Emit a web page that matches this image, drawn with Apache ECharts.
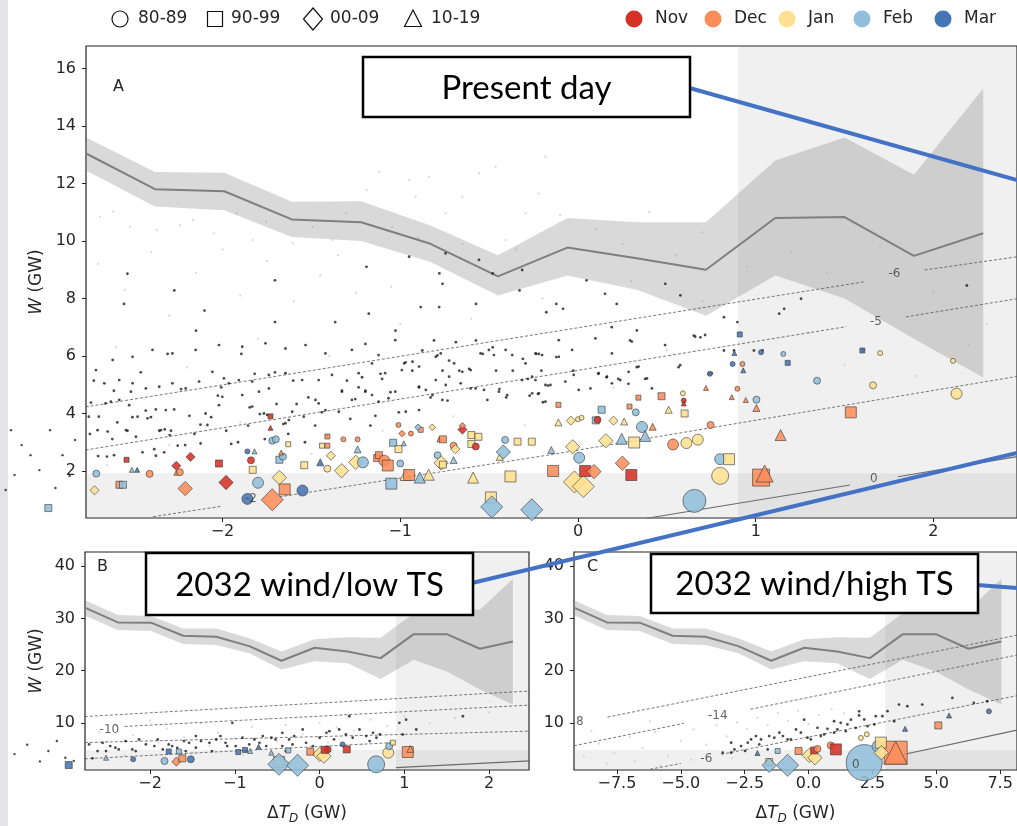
<!DOCTYPE html>
<html><head><meta charset="utf-8">
<script src="https://cdn.jsdelivr.net/npm/echarts@6/dist/echarts.min.js"></script>
<style>html,body{margin:0;padding:0;background:#fff;}#c{width:1017px;height:826px;}</style>
</head><body><div id="c"></div><script>
// ---------------- DATA ----------------
const MONTHS = ['Nov','Dec','Jan','Feb','Mar'];
const DECADES = ['80-89','90-99','00-09','10-19'];

// ridge line (x, mid, upper, lower)
const lineX_AB = [-2.77,-2.38,-1.99,-1.61,-1.22,-0.83,-0.45,-0.06,0.33,0.72,1.11,1.50,1.89,2.28];
const lineA_mid = [13.05,11.8,11.73,10.75,10.65,9.9,8.77,9.77,9.4,9.0,10.8,10.83,9.48,10.27];
const lineA_up  = [13.6,12.4,12.37,11.36,11.38,10.54,9.5,10.8,10.65,10.65,12.8,13.6,12.3,15.3];
const lineA_lo  = [12.46,11.2,11.07,10.14,10.0,9.27,8.1,8.8,8.3,7.4,8.8,8.0,6.6,5.25];
const lineC_x = [-9.18,-7.89,-6.61,-5.32,-4.03,-2.75,-1.46,-0.17,1.12,2.40,3.69,4.98,6.26,7.55];
const lineBC_mid = [32.1,29.25,29.2,26.7,26.5,24.7,21.9,24.4,23.66,22.4,27.0,27.0,24.2,25.6];
const lineBC_up  = [33.5,30.66,30.5,28.1,28.1,26.2,23.66,26.0,26.4,26.3,31.0,32.2,31.7,37.6];
const lineBC_lo  = [30.6,27.8,27.6,25.1,24.9,23.35,20.2,21.8,21.4,18.4,22.1,19.85,16.4,13.5];

// shaded thresholds
const shadeX_AB = 0.9, shadeW_A = 1.92, shadeX_C = 3.0, shadeW_BC = 4.8;

// contour segments
const contA = [
  [[-2.77,4.23],[1.61,8.58]], [[1.95,8.99],[2.47,9.45]],
  [[-2.77,2.73],[-0.16,5.34],[1.51,7.02]], [[1.845,7.36],[2.47,7.99]],
  [[-2.39,0.41],[-2.0,0.78]], [[-1.68,1.1],[-0.16,2.56],[2.47,5.29]]
];
const contA_solid = [ [[0.38,0.35],[1.53,1.51]], [[1.80,1.8],[2.47,2.5]] ];
const contA_labels = [['-6',1.78,8.85],['-5',1.676,7.2],['-2',-1.84,1.03],['0',1.665,1.72]];
const contB = [
  [[-2.77,11.2],[2.48,16.1]], [[-2.3,9.3],[2.48,13.4]],
  [[-2.77,6.2],[2.48,8.4]], [[-2.77,3.1],[0.86,6.2]]
];
const contB_solid = [ [[0.9,1.4],[2.48,2.7]] ];
const contB_labels = [['-10',-2.48,8.7]];
const contC = [
  [[-7.87,11.1],[8.16,26.8]],
  [[-9.18,5.6],[-4.88,9.9]], [[-2.27,12.6],[8.16,23.0]],
  [[-6.2,1.1],[-5.0,2.2]], [[-3.42,3.95],[8.16,15.2]]
];
const contC_solid = [ [[3.4,3.6],[8.16,8.6]] ];
const contC_labels = [['8',-8.95,10.2],['-14',-3.55,11.3],['-6',-4.0,3.1],['0',1.85,2.0]];

// background sample points
const blackA = [[-2.784,3.87],[-2.752,3.89],[-2.696,3.89],[-2.746,3.29],[-2.658,4.35],[-2.62,3.11],[-2.592,3.69],[-2.535,3.40],[-2.507,3.87],[-2.45,2.65],[-2.432,4.10],[-2.403,3.87],[-2.384,2.76],[-2.375,2.53],[-2.356,3.40],[-2.328,2.65],[-2.29,3.40],[-2.252,2.88],[-2.233,4.85],[-2.186,3.92],[-2.158,3.29],[-2.149,6.88],[-2.124,3.61],[-2.064,3.87],[-2.026,4.62],[-2.007,4.91],[-1.979,3.40],[-1.951,2.94],[-1.913,3.00],[-1.856,3.58],[-1.847,4.21],[-1.819,5.38],[-1.79,3.98],[-1.762,3.11],[-1.705,5.43],[-1.696,4.33],[-1.658,3.63],[-1.63,3.29],[-1.602,5.14],[-1.583,4.33],[-1.536,3.00],[-1.517,4.56],[-1.479,3.58],[-1.441,4.04],[-1.413,3.23],[-1.366,7.18],[-1.328,4.79],[-1.3,5.14],[-1.281,3.81],[-1.253,4.50],[-1.234,4.91],[-1.215,5.26],[-1.196,4.79],[-1.168,3.58],[-1.14,3.92],[-1.111,5.38],[-1.102,5.20],[-1.055,4.74],[-1.027,6.88],[-1.008,4.04],[-0.97,5.78],[-0.932,5.49],[-0.895,4.91],[-0.885,7.70],[-0.876,6.19],[-0.829,4.56],[-0.81,6.54],[-0.791,6.02],[-0.781,7.70],[-0.762,5.49],[-0.734,4.45],[-0.725,5.84],[-0.687,6.48],[-0.668,5.49],[-0.612,5.55],[-0.574,6.54],[-0.536,6.07],[-0.48,6.30],[-0.461,5.49],[-0.442,4.85],[-0.404,4.56],[-0.367,5.49],[-0.31,5.90],[-0.282,5.20],[-0.272,4.62],[-0.235,6.07],[-0.206,5.49],[-0.197,4.39],[-1.196,6.42],[-1.705,7.18],[-1.894,6.07],[-2.309,6.07],[-2.46,5.43],[-2.611,4.79],[-2.724,5.14],[-2.554,7.81],[-2.271,8.28],[-2.535,8.86],[-1.705,8.63],[-2.101,7.58],[-1.177,7.47],[-0.574,7.81],[-0.329,8.28],[-0.762,8.51],[-0.178,7.52],[-0.122,7.81],[-0.084,7.64],[0.048,8.63],[0.152,8.16],[0.19,7.0],[0.218,7.81],[0.293,6.54],[0.331,6.89],[0.491,8.51],[0.576,8.11],[0.652,6.71],[0.689,6.65],[0.821,7.35],[0.897,7.18],[0.821,6.19],[0.878,6.19],[0.99,6.19],[1.038,6.19],[1.132,7.47],[1.16,7.64],[1.255,7.99],[-0.22,6.07],[-0.122,5.96],[-0.027,5.49],[0.114,5.38],[0.161,5.26],[0.227,5.20],[0.284,5.03],[0.331,5.61],[0.378,5.20],[-0.225,4.68],[-0.169,4.97],[2.188,8.45],[0.566,5.61],[0.736,5.38],[1.604,6.19],[-0.95,9.45],[-0.78,8.87],[-0.745,9.57],[-0.557,9.34],[-0.314,8.99],[-1.19,9.1],[-0.48,8.87],[-2.70,2.52],[-2.65,2.5],[-2.61,2.55]];
const blackA2 = [[-2.74,4.38],[-2.628,4.41],[-2.581,4.47],[-2.525,4.29],[-2.515,4.76],[-2.375,4.14],[-2.319,4.12],[-2.272,4.14],[-2.478,3.89],[-2.422,3.83],[-2.347,3.42],[-2.325,3.45],[-2.297,3.25],[-2.21,2.90],[-2.123,2.96],[-2.085,3.6],[-2.095,4.0],[-2.02,4.29],[-2.001,4.58],[-1.964,5.05],[-1.889,4.64],[-1.795,4.76],[-1.739,4.87],[-1.833,4.24],[-1.767,4.0],[-1.749,3.95],[-1.646,3.66],[-1.627,3.77],[-1.608,4.06],[-1.543,3.89],[-1.477,4.47],[-1.459,4.35],[-1.421,4.12],[-1.346,4.06],[-1.328,4.76],[-1.272,4.47],[-1.197,4.76],[-1.159,4.64],[-1.122,4.41],[-1.066,4.53],[-1.028,4.76],[-0.991,5.51],[-1.085,5.40],[-1.159,5.74],[-1.234,5.40],[-1.384,5.34],[-1.459,5.16],[-1.552,5.16],[-1.646,5.40],[-1.739,5.34],[-1.833,5.11],[-1.908,5.16],[-1.992,5.22],[-2.057,5.45],[-2.132,5.11],[-2.207,4.87],[-2.282,5.05],[-2.356,4.93],[-2.431,4.87],[-2.506,5.05],[-2.581,5.16],[-2.665,5.05],[-2.712,5.51],[-2.618,5.86],[-2.506,5.97],[-2.394,6.21],[-2.282,6.09],[-2.151,6.21],[-2.02,6.38],[-1.889,6.32],[-1.758,6.44],[-1.646,6.26],[-1.533,6.38],[-1.421,6.09],[-1.272,6.21],[-1.122,6.03],[-1.028,6.55],[-2.703,3.42],[-2.646,3.37],[-2.543,3.42],[-2.487,3.19],[-0.978,5.74],[-0.931,5.80],[-0.894,5.63],[-0.80,5.97],[-0.772,6.09],[-0.697,5.74],[-0.651,5.45],[-0.604,5.51],[-0.548,6.09],[-0.501,6.21],[-0.473,6.03],[-0.407,6.21],[-0.37,6.03],[-0.295,5.74],[-0.239,6.09],[-0.202,6.03],[-0.108,6.55],[-0.108,5.97],[-0.033,6.21],[0.098,6.61],[0.191,6.09],[0.303,6.50],[0.49,6.38],[0.659,6.67],[0.715,6.73],[-0.894,4.93],[-0.856,4.82],[-0.80,5.16],[-0.744,4.99],[-0.725,5.28],[-0.66,5.05],[-0.604,4.87],[-0.529,4.82],[-0.445,4.76],[-0.398,4.64],[-0.314,5.16],[-0.258,5.28],[-0.239,5.16],[-0.183,4.99],[-0.155,4.99],[-0.071,5.11],[-0.024,5.34],[0.004,4.82],[0.07,4.87],[0.116,5.40],[0.163,5.28],[0.191,5.05],[0.238,5.16],[0.285,5.45],[0.341,5.63],[0.388,5.22],[0.416,4.87],[0.575,5.68],[0.752,5.40],[-0.258,4.70],[-0.22,4.70],[-0.183,4.41],[-0.763,4.47],[-0.819,4.64],[-0.969,4.06],[-0.894,4.12],[-0.576,4.87],[-0.51,4.47]];
const blackA_out = [[-3.19,3.42],[-3.13,2.9],[-3.03,2.03],[-2.94,1.41],[-2.86,1.83],[-3.17,1.86],[-3.08,2.55],[-2.9,2.55],[-2.97,3.42],[-2.83,3.08],[-3.22,1.34]];
const faintA = [[-2.69,10.84],[-2.615,11.02],[-2.52,10.49],[-2.37,10.38],[-2.24,10.55],[-2.166,10.73],[-2.05,10.26],[-1.92,10.96],[-1.83,10.03],[-1.755,10.67],[-1.605,9.92],[-1.493,10.49],[-1.38,10.03],[-1.306,10.96],[-1.19,11.77],[-1.12,12.41],[-1.044,10.49],[-0.95,12.12],[-0.913,11.54],[-0.838,12.23],[-0.745,10.96],[-0.651,11.54],[-0.557,12.35],[-0.464,12.58],[-0.408,10.03],[-0.295,10.96],[-0.221,11.65],[-0.183,12.93],[-2.7,9.2],[-2.55,8.3],[-2.4,9.6],[-2.3,7.4],[-2.15,8.9],[-2.0,9.7],[-1.9,8.1],[-1.75,9.3],[-1.6,7.9],[-1.45,8.8],[-1.35,9.5],[-1.25,8.2],[-1.05,8.4],[-0.9,10.1],[-0.65,9.9],[-0.35,9.7],[-0.1,10.9],[0.1,10.4],[0.25,9.9],[0.4,11.0],[0.55,9.5],[0.7,10.3],[0.95,9.1],[1.2,9.6],[1.4,8.9],[1.7,9.8],[2.0,8.2],[2.3,7.1],[-2.6,6.3],[-2.2,5.6],[-1.8,6.6],[-1.4,6.0],[-1.0,7.1],[-0.6,7.3],[-0.2,8.0],[0.3,8.6],[0.7,7.9],[1.3,6.8],[1.9,5.3],[-2.65,2.2],[-2.3,2.9],[-1.9,3.7],[-1.5,2.6],[-1.1,3.4],[-0.7,3.9],[-0.3,3.6],[0.2,4.9],[0.5,6.2],[1.5,5.7],[2.2,6.4]];
const blackB = [[-2.68,3.18],[-2.37,4.9],[-2.21,4.9],[-1.95,5.54],[-1.78,5.86],[-1.68,5.2],[-1.54,6.17],[-1.40,6.49],[-1.22,6.8],[-1.11,6.17],[-0.99,5.54],[-0.91,7.13],[-0.77,6.8],[-0.71,6.17],[-0.57,7.13],[-0.44,8.08],[-0.36,6.8],[-0.2,8.72],[0.0,7.13],[0.115,8.4],[0.23,8.72],[0.35,11.26],[0.39,7.13],[0.55,7.45],[0.63,8.08],[0.67,7.13],[-0.44,5.54],[-0.67,7.45],[-1.03,9.99],[-1.46,7.45],[-1.85,4.9],[-2.13,6.8],[-2.47,5.54],[-2.62,4.58],[-0.87,4.58],[-0.32,5.86],[-0.08,5.54],[0.98,7.76],[1.14,8.72],[1.69,11.26],[-2.72,5.85],[-2.56,6.17],[-2.41,5.22],[-2.29,6.49],[-2.05,5.85],[-1.91,6.81],[-1.74,5.54],[-1.6,6.49],[-1.46,5.22],[-1.3,6.17],[-1.17,7.45],[-1.09,5.54],[-0.83,5.85],[-0.63,5.54],[-0.52,6.81],[-0.3,7.45],[-0.16,6.17],[0.08,8.08],[0.17,6.81],[0.31,7.76],[0.47,8.72],[0.59,6.49],[0.71,7.76],[0.94,9.99],[1.02,10.6],[-1.58,4.58],[-1.27,4.58],[-0.4,4.58],[-2.17,4.58],[-2.52,4.58]];
const blackB_out = [[-3.0,3.3],[-3.2,4.6],[-3.45,5.8],[-3.1,6.5],[-2.9,2.7],[-3.6,4.0],[-3.3,2.6]];
const faintB = [[-2.6,8.2],[-2.4,9.5],[-2.2,7.6],[-2.0,10.4],[-1.8,8.9],[-1.6,7.2],[-1.4,9.9],[-1.2,8.1],[-1.0,7.0],[-0.8,9.2],[-0.6,10.8],[-0.4,9.6],[-0.2,7.8],[0.0,10.0],[0.2,9.1],[0.4,8.5],[0.6,10.6],[0.8,9.4],[1.0,11.2],[1.3,9.9],[1.6,10.9],[2.0,12.0],[-2.5,6.5],[-1.9,6.2],[-1.3,5.6],[-0.5,6.4],[0.1,6.2],[0.5,5.9],[-2.3,3.8],[-1.5,4.3],[-0.9,3.9]];
const blackC = [[-3.36,4.27],[-2.9,4.9],[-2.38,6.18],[-2.06,7.45],[-1.86,6.82],[-1.34,7.13],[-1.0,7.45],[-0.49,8.72],[-0.04,7.13],[0.09,6.82],[0.48,7.45],[0.74,8.85],[1.0,10.3],[1.26,10.0],[1.46,8.4],[1.66,10.6],[1.98,11.4],[1.98,12.2],[2.31,9.36],[2.57,9.68],[2.89,11.27],[3.35,10.3],[3.54,13.5],[4.45,13.5],[5.63,14.77],[-0.17,10.6],[-0.82,6.82],[-1.6,4.9],[-2.48,4.6],[-3.03,6.18],[1.0,8.1],[-3.03,4.27],[-2.64,5.54],[-2.25,6.82],[-1.93,5.86],[-1.54,7.45],[-1.14,8.1],[-0.69,6.82],[-0.3,8.1],[0.35,9.04],[0.61,7.77],[1.13,8.72],[1.52,9.68],[1.85,9.04],[2.18,10.63],[2.63,11.27],[3.09,12.22],[3.87,13.18],[6.47,13.81],[6.99,14.13]];
const faintC = [[-8.8,3.5],[-8.2,6.0],[-7.6,4.2],[-7.0,7.3],[-6.5,5.1],[-6.0,8.2],[-5.5,3.7],[-5.0,6.6],[-4.5,8.7],[-4.0,5.8],[-3.6,9.5],[-3.2,7.4],[-2.8,10.1],[-2.4,8.8],[-2.0,11.0],[-1.6,9.6],[-1.2,11.9],[-0.8,10.4],[-0.4,12.3],[0.0,9.8],[0.4,11.5],[0.9,12.6],[1.4,11.8],[-7.9,2.2],[-6.8,2.6],[-5.8,1.8],[-4.6,2.9],[-3.0,3.2],[-8.5,8.4],[-6.2,10.3]];

// events: [dT, W, month(0=Nov..4=Mar), decade(0=80s..3=10s), magnitude class]
const eventsA = [[-2.71,1.91,3,0,2],[-2.72,1.33,2,2,2],[-2.58,1.52,1,1,2],[-2.56,1.52,3,1,2],[-2.54,2.39,0,1,1],[-2.51,2.04,3,3,1],[-2.48,2.04,4,3,1],[-2.41,1.9,1,0,2],[-2.21,1.39,1,2,3],[-2.26,2.18,0,2,2],[-2.26,1.94,1,3,1],[-2.24,1.96,1,0,2],[-2.18,2.49,0,2,2],[-2.02,2.26,0,1,2],[-1.98,1.6,0,2,3],[-1.86,1.03,4,0,3],[-1.80,1.59,3,0,3],[-1.72,1.0,1,2,4],[-1.68,1.77,2,2,3],[-1.65,1.36,1,1,3],[-1.55,1.32,4,0,3],[-1.83,2.04,2,1,2],[-1.84,2.37,0,0,2],[-1.86,2.68,4,0,1],[-1.82,2.68,3,3,1],[-1.73,3.5,0,3,1],[-1.73,3.9,0,1,1],[-1.72,3.05,3,0,2],[-1.70,3.1,3,0,2],[-1.68,2.39,3,1,2],[-1.66,2.5,3,0,2],[-1.67,2.64,1,3,1],[-1.63,2.93,2,1,1],[-1.54,2.2,2,1,2],[-1.45,2.3,4,3,2],[-1.41,2.08,2,0,2],[-1.33,2.01,2,2,3],[-1.39,2.53,2,2,2],[-1.41,2.88,1,1,1],[-1.44,2.88,2,1,1],[-1.41,3.2,1,1,1],[-1.32,3.1,1,0,1],[-1.24,2.75,3,3,2],[-1.24,3.1,1,0,1],[-1.25,2.3,2,2,3],[-1.21,2.3,3,0,3],[-1.13,2.45,1,1,2],[-1.12,2.55,1,1,2],[-1.09,2.36,1,0,3],[-1.07,2.19,1,1,3],[-1.05,1.56,3,1,3],[-1.04,2.98,3,1,2],[-1.01,2.76,2,1,2],[-1.01,3.6,1,0,1],[-1.0,2.26,3,0,2],[-0.98,2.96,3,3,1],[-0.97,1.86,2,3,3],[-0.95,1.86,1,1,3],[-0.89,1.77,3,3,3],[-0.84,1.87,2,3,3],[-0.99,3.3,1,2,1],[-0.94,3.3,1,0,1],[-0.885,3.43,1,1,1],[-0.9,3.52,3,2,1],[-0.82,3.52,2,2,1],[-0.79,2.55,3,0,2],[-0.77,2.28,2,2,3],[-0.76,2.22,2,1,2],[-0.70,2.38,3,3,2],[-0.78,3.1,1,3,1],[-0.76,3.1,1,1,2],[-0.70,2.88,1,0,2],[-0.69,2.76,2,2,2],[-0.65,3.44,0,2,2],[-0.65,3.57,1,2,1],[-0.6,3.25,2,1,2],[-0.56,3.19,2,1,2],[-0.6,2.94,2,1,2],[-0.575,2.85,0,0,2],[-0.59,1.77,2,3,3],[-0.41,3.08,3,0,2],[-0.44,2.49,2,3,2],[-0.42,2.66,3,2,3],[-0.38,1.81,2,1,3],[-0.34,3.02,2,1,2],[-0.26,3.02,2,1,2],[-0.49,1.08,2,1,3],[-0.485,0.75,3,2,4],[-0.26,0.65,3,2,4],[-0.15,2.73,3,3,2],[-0.14,2.0,1,1,3],[-0.03,2.84,2,2,3],[0.007,2.46,3,0,3],[-0.02,1.62,2,2,4],[0.03,1.46,2,2,4],[0.04,2.0,0,1,3],[0.09,1.98,1,2,3],[0.157,3.05,2,2,3],[0.246,3.12,3,3,3],[0.25,2.27,1,2,3],[0.30,1.86,0,1,3],[0.316,2.99,2,1,3],[0.36,3.53,3,0,3],[0.378,3.22,3,3,3],[0.42,3.54,1,3,2],[0.535,2.92,1,0,3],[0.61,2.97,2,0,3],[0.674,3.09,2,0,3],[0.746,3.6,1,0,2],[0.655,0.96,3,0,5],[0.80,1.83,2,0,4],[-0.11,4.3,1,1,1],[-0.11,3.69,2,3,2],[-0.04,3.75,2,2,2],[0.0,3.8,2,0,1],[0.02,3.85,2,0,1],[0.1,3.76,3,1,2],[0.11,3.78,0,0,2],[0.133,4.13,3,1,2],[0.2,3.75,2,2,2],[0.26,3.72,2,3,2],[0.29,4.24,1,1,1],[0.325,4.04,3,0,2],[0.34,4.55,1,1,1],[0.47,4.6,1,1,2],[0.51,4.13,2,3,2],[0.595,4.45,0,0,1],[0.595,4.35,0,3,1],[0.6,4.0,2,1,2],[0.59,4.7,2,0,1],[0.72,4.89,1,3,1],[0.80,2.41,3,0,3],[0.85,2.41,2,1,3],[1.03,1.77,1,1,4],[1.05,1.91,1,3,4],[1.14,3.25,1,3,3],[1.535,4.04,1,1,3],[1.66,4.98,2,0,2],[1.345,5.14,3,0,2],[2.13,4.69,2,0,3],[2.11,5.83,2,0,1],[1.70,6.1,2,0,1],[1.60,6.19,4,1,1],[1.004,4.48,3,0,2],[1.004,4.19,1,3,2],[0.944,4.47,1,3,1],[0.865,4.57,1,3,1],[0.897,4.86,1,0,1],[0.742,5.38,4,0,1],[0.87,5.72,4,0,1],[0.925,5.72,1,0,1],[0.93,5.5,4,3,1],[1.03,6.13,4,0,1],[1.155,6.07,3,0,1],[1.18,5.76,4,1,1],[0.88,6.1,4,3,1],[0.91,6.75,4,1,1]];
const eventsA_out = [[-2.98,0.71,3,1,2]];
const eventsB = [[-1.83,2.67,3,0,2],[-1.69,2.55,1,2,2],[-1.62,3.18,1,1,2],[-1.52,3.0,4,0,2],[-0.48,2.5,2,1,3],[-0.48,2.04,3,2,4],[-0.26,1.85,3,2,4],[0.667,2.04,3,0,4],[0.0,3.95,2,2,3],[0.05,3.6,2,2,3],[0.095,4.9,0,0,2],[0.06,4.8,0,1,2],[-0.11,4.46,1,1,2],[0.32,4.9,0,1,2],[0.81,4.27,2,0,3],[0.82,5.5,3,0,2],[0.864,6.2,2,1,1],[1.04,4.4,1,1,3],[1.07,5.0,1,3,2],[-0.37,4.7,3,1,1],[-0.57,4.27,3,3,1],[-0.96,4.4,4,1,1],[-0.88,4.8,4,1,1],[-0.82,4.6,3,3,1],[-0.72,5.4,4,3,1],[-1.78,4.5,4,1,1],[-1.66,4.5,3,1,1],[-2.2,3.0,4,0,1],[-2.52,3.3,3,3,1],[0.27,5.86,4,0,1]];
const eventsB_out = [[-2.96,1.9,4,1,2]];
const eventsC = [[2.18,2.37,3,0,6],[3.41,4.27,1,1,5],[3.41,4.27,1,3,5],[2.70,5.5,3,0,3],[2.83,6.2,2,1,3],[2.85,4.27,2,2,3],[-0.82,1.85,3,2,4],[-1.54,2.48,2,1,2],[-1.54,1.85,3,2,3],[0.03,3.76,2,2,3],[0.25,3.3,2,2,3],[0.22,4.7,0,1,2],[0.35,5.0,1,0,2],[-0.39,4.6,1,1,2],[0.87,5.67,1,0,2],[1.07,4.9,0,1,3],[2.05,7.1,2,0,1],[2.28,7.8,2,0,1],[5.08,9.5,1,1,2],[7.06,12.2,4,0,1],[5.5,11.4,4,3,1],[3.78,8.85,4,3,1],[-1.21,4.6,3,1,1],[-2.0,4.2,4,3,1]];

// axes
const xRangeAB = [-2.768, 2.47], xRangeC = [-9.18, 8.16];
const yRangeA = [0.365, 16.78], yRangeBC = [0.95, 42.75];
const xTicksAB = [-2,-1,0,1,2], xTicksC = [-7.5,-5,-2.5,0,2.5,5,7.5];
const yTicksA = [2,4,6,8,10,12,14,16], yTicksBC = [10,20,30,40];

// ---------------- STYLE ----------------
const COLORS = ['#d73027','#fc8d59','#fee090','#91bfdb','#4575b4'];
const SHAPES = ['circle','rect','diamond','triangle'];
const MAG_PX = [0,5,7,11,17,23,36];
const FONT = 'DejaVu Sans';
const BOXFONT = 'Lato, "Open Sans", sans-serif';

const fmt = d => v => (v < 0 ? '\u2212' : '') + Math.abs(v).toFixed(d);

function xAxis(gi, range, ticks, dec, named) {
  return {
    type:'value', gridIndex:gi, min:range[0], max:range[1], scale:true,
    axisLine:{show:false, onZero:false}, splitLine:{show:false},
    axisTick:{show:true, customValues:ticks, length:4, lineStyle:{color:'#222'}},
    axisLabel:{customValues:ticks, formatter:fmt(dec), color:'#262626', fontSize:16, fontFamily:FONT, margin:6},
    name: named ? '{d|\u0394}{i|T}{s|D}{a| (GW)}' : '', nameLocation:'middle', nameGap:33,
    nameTextStyle:{color:'#262626', fontFamily:FONT, rich:{
      d:{fontSize:17,fontFamily:FONT,color:'#262626',lineHeight:22},
      i:{fontSize:17,fontFamily:FONT,fontStyle:'italic',color:'#262626',lineHeight:22},
      s:{fontSize:12,fontFamily:FONT,fontStyle:'italic',color:'#262626',verticalAlign:'bottom',lineHeight:22},
      a:{fontSize:17,fontFamily:FONT,color:'#262626',lineHeight:22}}}
  };
}
function yAxis(gi, range, ticks, named) {
  return {
    type:'value', gridIndex:gi, min:range[0], max:range[1], scale:true,
    axisLine:{show:false, onZero:false}, splitLine:{show:false},
    axisTick:{show:true, customValues:ticks, length:4, lineStyle:{color:'#222'}},
    axisLabel:{customValues:ticks, formatter:fmt(0), color:'#262626', fontSize:16, fontFamily:FONT, margin:10},
    name: named ? '{i|W}{a| (GW)}' : '', nameLocation:'middle', nameGap:40, nameRotate:90,
    nameTextStyle:{color:'#262626', fontFamily:FONT, rich:{
      i:{fontSize:17,fontFamily:FONT,fontStyle:'italic',color:'#262626'},
      a:{fontSize:17,fontFamily:FONT,color:'#262626'}}}
  };
}
function poly(gi, pts, fill, z) {
  return {type:'custom', xAxisIndex:gi, yAxisIndex:gi, silent:true, z:z, clip:true,
    data:[pts[0]],
    renderItem:(params, api) => ({type:'polygon', shape:{points: pts.map(p => api.coord(p))}, style:{fill:fill}})};
}
function zip(a,b){ return a.map((v,i)=>[v,b[i]]); }
function bandPts(xs, up, lo){ return zip(xs,up).concat(zip(xs,lo).reverse()); }
function lineSeries(gi, data, style, z){
  return {type:'line', xAxisIndex:gi, yAxisIndex:gi, data:data, symbol:'none', showSymbol:false, silent:true, z:z, lineStyle:style, animation:false};
}
function dots(gi, data, color, size, z, clip){
  return {type:'scatter', xAxisIndex:gi, yAxisIndex:gi, data:data, symbol:'circle', symbolSize:size, silent:true, z:z, clip:clip!==false,
    itemStyle:{color:color}, animation:false};
}
function events(gi, data, z, clip){
  return {type:'scatter', xAxisIndex:gi, yAxisIndex:gi, data:data, silent:true, z:z, clip:clip!==false, animation:false,
    symbol:(v)=>SHAPES[v[3]],
    symbolSize:(v)=>MAG_PX[v[4]]*(v[3]===2?1.3:1),
    itemStyle:{color:(p)=>COLORS[p.value[2]], borderColor:'#3a3a3a', borderWidth:0.7, opacity:0.88}};
}
function labels(gi, list, z){
  return {type:'scatter', xAxisIndex:gi, yAxisIndex:gi, silent:true, z:z, animation:false,
    data:list.map(l=>({name:l[0], value:[l[1],l[2]]})), symbol:'circle', symbolSize:1,
    itemStyle:{color:'rgba(0,0,0,0)'},
    label:{show:true, position:'inside', formatter:(p)=>p.name, color:'#3c3c3c', fontSize:12, fontFamily:FONT}};
}
const SHADE = 'rgba(128,128,128,0.12)';
const BAND = 'rgba(128,128,128,0.30)';
const DASH = {color:'#555', width:0.8, type:[3,2]};
const SOLID = {color:'#6a6a6a', width:1.1};

function panel(gi, xr, yr, sx, sw, lx, mid, up, lo, cont, contSolid, contLab, faint, blacks, blackOut, ev, evOut){
  const s = [];
  s.push(poly(gi, [[sx,yr[0]],[xr[1],yr[0]],[xr[1],yr[1]],[sx,yr[1]]], SHADE, 1));
  s.push(poly(gi, [[xr[0],yr[0]],[xr[1],yr[0]],[xr[1],sw],[xr[0],sw]], SHADE, 1));
  s.push(dots(gi, faint, '#cdcdcd', 2.2, 2));
  s.push(poly(gi, bandPts(lx, up, lo), BAND, 3));
  s.push(lineSeries(gi, zip(lx, mid), {color:'#7f7f7f', width:2}, 4));
  cont.forEach(c => s.push(lineSeries(gi, c, DASH, 5)));
  contSolid.forEach(c => s.push(lineSeries(gi, c, SOLID, 5)));
  blacks.forEach(b => s.push(dots(gi, b, '#1e1e1e', 2.8, 6)));
  if (blackOut) s.push(dots(gi, blackOut, '#1e1e1e', 2.4, 6, false));
  s.push(events(gi, ev, 7));
  if (evOut) s.push(events(gi, evOut, 7, false));
  s.push(labels(gi, contLab, 8));
  return s;
}

const series = [].concat(
  panel(0, xRangeAB, yRangeA, shadeX_AB, shadeW_A, lineX_AB, lineA_mid, lineA_up, lineA_lo, contA, contA_solid, contA_labels, faintA, [blackA, blackA2], blackA_out, eventsA, eventsA_out),
  panel(1, xRangeAB, yRangeBC, shadeX_AB, shadeW_BC, lineX_AB, lineBC_mid, lineBC_up, lineBC_lo, contB, contB_solid, contB_labels, faintB, [blackB], blackB_out, eventsB, eventsB_out),
  panel(2, xRangeC, yRangeBC, shadeX_C, shadeW_BC, lineC_x, lineBC_mid, lineBC_up, lineBC_lo, contC, contC_solid, contC_labels, faintC, [blackC], null, eventsC, null)
);

// legend + annotations (figure-level overlay)
const LEG_Y = 19;
const legendShapes = [
  {type:'circle', shape:{cx:120, cy:LEG_Y, r:8}},
  {type:'rect', shape:{x:207.5, y:LEG_Y-7.5, width:15, height:15}},
  {type:'polygon', shape:{points:[[313,LEG_Y-11],[322.5,LEG_Y],[313,LEG_Y+11],[303.5,LEG_Y]]}},
  {type:'polygon', shape:{points:[[413,LEG_Y-9],[421.5,LEG_Y+7.5],[404.5,LEG_Y+7.5]]}}
];
const legendDecX = [138, 231, 330, 431];
const legendMonX = [634, 713, 787, 862, 943];
const graphics = [
  {type:'rect', shape:{x:0,y:0,width:8,height:826}, style:{fill:'#e4e4e6'}, z:0, silent:true}
];
legendShapes.forEach((g,i)=>{
  graphics.push(Object.assign({}, g, {style:{fill:'none', stroke:'#111', lineWidth:1.2}, z:10}));
  graphics.push({type:'text', x:legendDecX[i], y:LEG_Y, style:{text:DECADES[i], fill:'#262626', font:'17px "DejaVu Sans"', verticalAlign:'middle'}, z:10});
});
MONTHS.forEach((m,i)=>{
  graphics.push({type:'circle', shape:{cx:legendMonX[i], cy:LEG_Y, r:8.5}, style:{fill:COLORS[i]}, z:10});
  graphics.push({type:'text', x:legendMonX[i]+21, y:LEG_Y, style:{text:m, fill:'#262626', font:'17px "DejaVu Sans"', verticalAlign:'middle'}, z:10});
});
[['A',113,87],['B',97,567],['C',587,567]].forEach(p=>{
  graphics.push({type:'text', x:p[1], y:p[2], style:{text:p[0], fill:'#262626', font:'16px "DejaVu Sans"', verticalAlign:'middle'}, z:10});
});
const BLUE = '#4472c4';
[[686,87,1017,180],[472,583,1017,453],[977,585,1017,588]].forEach(l=>{
  graphics.push({type:'line', shape:{x1:l[0],y1:l[1],x2:l[2],y2:l[3]}, style:{stroke:BLUE, lineWidth:4}, z:20});
});
[['Present day',363,57,327,60],['2032 wind/low TS',146,553,327,62],['2032 wind/high TS',651,554,327,59]].forEach(b=>{
  graphics.push({type:'rect', shape:{x:b[1],y:b[2],width:b[3],height:b[4]}, style:{fill:'#fff', stroke:'#000', lineWidth:2.5}, z:30});
  graphics.push({type:'text', x:b[1]+b[3]/2, y:b[2]+b[4]/2+1, style:{text:b[0], fill:'#000', font:'33px '+BOXFONT, align:'center', verticalAlign:'middle'}, z:31});
});

const chart = echarts.init(document.getElementById('c'), null, {renderer:'canvas'});
chart.setOption({
  animation:false,
  backgroundColor:'#fff',
  grid:[
    {left:86, top:46, width:933, height:472, show:true, borderColor:'#222', borderWidth:1.2, backgroundColor:'transparent'},
    {left:85, top:552, width:444, height:219, show:true, borderColor:'#222', borderWidth:1.2, backgroundColor:'transparent'},
    {left:574, top:552, width:444, height:219, show:true, borderColor:'#222', borderWidth:1.2, backgroundColor:'transparent'}
  ],
  xAxis:[xAxis(0,xRangeAB,xTicksAB,0,false), xAxis(1,xRangeAB,xTicksAB,0,true), xAxis(2,xRangeC,xTicksC,1,true)],
  yAxis:[yAxis(0,yRangeA,yTicksA,true), yAxis(1,yRangeBC,yTicksBC,true), yAxis(2,yRangeBC,yTicksBC,false)],
  series: series,
  graphic: graphics
});
</script></body></html>
